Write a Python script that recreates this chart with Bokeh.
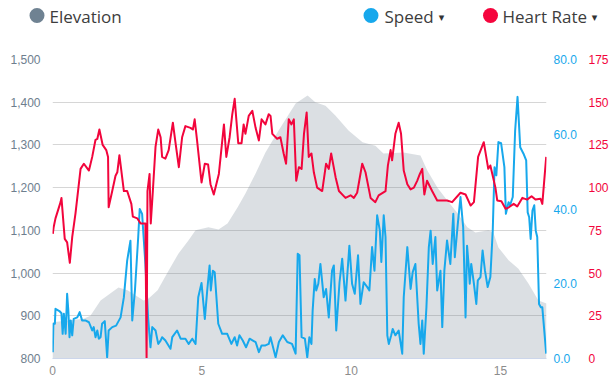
from bokeh.plotting import figure
from bokeh.layouts import column
from bokeh.models import (Range1d, LinearAxis, FixedTicker, NumeralTickFormatter)
from bokeh.core.properties import value
from bokeh.embed import file_html
from bokeh.resources import INLINE

# ---- data (distance in km) ----
dist_elev = [0.00, 1.04, 1.27, 1.61, 2.21, 2.51, 3.05, 3.21, 3.52, 3.88, 4.22, 4.55, 4.79,
             5.22, 5.56, 5.86, 6.19, 6.46, 6.80, 7.13, 7.57, 8.14, 8.54, 8.80, 9.14, 9.47,
             9.91, 10.38, 10.81, 11.08, 11.75, 12.32, 12.55, 12.89, 13.22, 13.56, 13.89,
             14.16, 14.60, 14.76, 14.93, 15.27, 15.60, 15.94, 16.27, 16.54]
elevation = [885, 893, 900, 936, 966, 960, 936, 940, 960, 1005, 1046, 1076, 1100,
             1107, 1102, 1116, 1153, 1186, 1233, 1282, 1334, 1397, 1416, 1400, 1392, 1369,
             1334, 1306, 1298, 1280, 1282, 1275, 1240, 1200, 1170, 1140, 1107,
             1095, 1100, 1095, 1060, 1030, 1010, 975, 936, 929]

dist_speed = [0.01, 0.03, 0.08, 0.10, 0.23, 0.30, 0.34, 0.38, 0.44, 0.49, 0.53, 0.57, 0.61,
              0.66, 0.71, 0.83, 0.91, 0.99, 1.10, 1.22, 1.33, 1.38, 1.44, 1.50, 1.55, 1.61,
              1.66, 1.75, 1.83, 1.88, 2.00, 2.13, 2.28, 2.39, 2.50, 2.61, 2.67, 2.76, 2.87,
              2.92, 3.00, 3.11, 3.20, 3.28, 3.34, 3.45, 3.54, 3.62, 3.67, 3.78, 3.95, 4.01,
              4.17, 4.29, 4.45, 4.56, 4.68, 4.79, 4.88, 4.99, 5.10, 5.18, 5.26, 5.30, 5.37,
              5.43, 5.55, 5.68, 5.85, 5.99, 6.10, 6.18, 6.26, 6.37, 6.48, 6.60, 6.71, 6.80,
              6.91, 7.00, 7.13, 7.24, 7.30, 7.47, 7.58, 7.71, 7.86, 8.02, 8.14, 8.21, 8.27,
              8.34, 8.45, 8.53, 8.60, 8.67, 8.71, 8.78, 8.83, 8.90, 8.97, 9.08, 9.16, 9.25,
              9.36, 9.42, 9.50, 9.61, 9.70, 9.81, 9.94, 10.03, 10.12, 10.23, 10.31, 10.42,
              10.54, 10.61, 10.70, 10.78, 10.87, 10.96, 11.01, 11.09, 11.15, 11.21, 11.26,
              11.34, 11.39, 11.48, 11.59, 11.71, 11.76, 11.88, 11.99, 12.06, 12.15, 12.26,
              12.32, 12.38, 12.43, 12.52, 12.60, 12.66, 12.73, 12.82, 12.88, 12.99, 13.05,
              13.12, 13.21, 13.32, 13.42, 13.47, 13.57, 13.66, 13.75, 13.83, 13.88, 13.93,
              13.97, 14.02, 14.11, 14.19, 14.24, 14.33, 14.40, 14.48, 14.57, 14.66, 14.74,
              14.80, 14.86, 14.93, 15.02, 15.13, 15.18, 15.27, 15.32, 15.41, 15.49, 15.57,
              15.66, 15.77, 15.86, 15.91, 15.96, 16.01, 16.07, 16.13, 16.18, 16.23, 16.29,
              16.35, 16.40, 16.53]
speed = [1.7, 9.3, 9.3, 13.3, 12.7, 12.1, 6.6, 12.0, 6.6, 17.3, 12.8, 5.7, 10.2,
         6.2, 10.6, 11.0, 12.4, 10.2, 10.2, 9.7, 7.5, 8.4, 5.7, 7.5, 5.3, 5.7,
         9.3, 10.0, 0.3, 7.5, 8.4, 8.8, 11.0, 16.4, 26.2, 31.5, 10.2, 18.2, 32.5,
         40.0, 38.7, 25.3, 11.0, 3.0, 8.4, 7.5, 3.9, 4.8, 5.7, 4.8, 2.6, 5.7,
         7.5, 5.3, 5.3, 3.9, 5.3, 3.9, 16.4, 20.2, 10.6, 18.2, 24.9, 18.2, 23.5,
         23.1, 9.3, 6.6, 6.6, 3.9, 5.7, 3.5, 6.2, 4.8, 3.0, 5.3, 4.8, 4.4,
         1.7, 3.5, 3.5, 3.9, 5.7, 0.3, 4.4, 6.2, 4.4, 3.9, 1.3, 28.0, 27.6,
         5.7, 5.3, 0.3, 5.7, 3.9, 12.8, 21.3, 18.2, 20.0, 25.3, 16.4, 18.6, 11.0,
         23.5, 24.9, 7.5, 20.4, 26.7, 15.5, 30.2, 20.0, 17.3, 27.6, 14.6, 20.4,
         19.1, 18.2, 29.8, 23.5, 38.3, 34.2, 25.8, 38.3, 32.5, 6.2, 3.9,
         6.2, 7.9, 6.2, 7.5, 1.3, 16.4, 29.8, 18.6, 23.1, 25.3, 9.3,
         3.9, 10.2, 1.3, 13.7, 29.8, 34.2, 25.3, 32.5, 18.2, 23.5, 8.4,
         23.5, 31.6, 25.3, 38.7, 27.1, 36.0, 43.2, 35.1, 11.0, 30.2, 25.3,
         20.0, 25.3, 20.0, 14.6, 20.9, 21.8, 28.9, 23.5, 19.1, 21.8, 34.2,
         51.2, 49.0, 57.9, 57.6, 51.2, 38.7, 41.8, 41.0, 43.2, 61.0, 70.0,
         56.5, 54.8, 53.0, 39.1, 37.8, 32.0, 39.6, 41.0, 34.2, 32.5, 14.6,
         13.7, 13.7, 1.3]

dist_hr = [0.01, 0.04, 0.10, 0.27, 0.30, 0.41, 0.49, 0.58, 0.66, 0.77, 0.94, 1.05, 1.22,
           1.33, 1.44, 1.50, 1.57, 1.68, 1.80, 1.86, 1.88, 2.00, 2.11, 2.17, 2.24, 2.39,
           2.50, 2.64, 2.69, 2.84, 2.95, 3.11, 3.15, 3.18, 3.25, 3.29, 3.36, 3.45, 3.54,
           3.62, 3.67, 3.78, 3.89, 4.03, 4.12, 4.23, 4.34, 4.45, 4.62, 4.70, 4.76, 4.84,
           4.99, 5.10, 5.21, 5.29, 5.40, 5.57, 5.74, 5.82, 5.93, 6.02, 6.10, 6.15, 6.22,
           6.33, 6.40, 6.46, 6.57, 6.69, 6.80, 6.91, 7.00, 7.13, 7.24, 7.30, 7.36, 7.52,
           7.63, 7.74, 7.82, 7.91, 8.00, 8.08, 8.16, 8.25, 8.34, 8.42, 8.51, 8.58, 8.67,
           8.75, 8.86, 9.03, 9.16, 9.25, 9.33, 9.48, 9.59, 9.81, 9.98, 10.09, 10.20,
           10.37, 10.48, 10.65, 10.81, 10.92, 11.15, 11.23, 11.32, 11.37, 11.48, 11.59,
           11.67, 11.76, 11.88, 11.99, 12.10, 12.21, 12.30, 12.38, 12.45, 12.54, 12.71,
           12.88, 13.21, 13.38, 13.66, 13.83, 14.00, 14.11, 14.25, 14.44, 14.59, 14.66,
           14.83, 14.89, 15.03, 15.17, 15.28, 15.44, 15.56, 15.73, 15.89, 16.04, 16.17,
           16.34, 16.40, 16.53]
heart_rate = [73, 77, 82, 91.5, 94, 70, 68, 56, 71, 85, 111, 114, 110,
              118, 128, 128.5, 134, 125, 122, 118, 88.5, 98, 107, 109, 119, 98,
              98, 90.5, 83, 82, 79, 79, 0, 98, 108, 79, 98, 124, 134,
              129.5, 118, 117, 122, 138, 126, 112, 129.5, 136, 135, 134, 140, 127.6,
              103, 114, 113.5, 102, 96, 108, 137, 118, 129.5, 143, 152, 141, 126,
              126, 137, 131.5, 142, 145, 135, 127.6, 140, 137, 143, 142, 131.5, 128.6,
              129.5, 120, 114, 140, 137, 140, 104, 112, 111, 131.5, 144, 118, 120,
              109, 100, 98, 114, 111, 120, 106, 98, 94, 95.5, 94, 97,
              114, 109, 94, 91.5, 95.5, 98, 113, 122, 116, 131.5, 138,
              131.5, 110, 102, 99, 100, 104, 108, 111, 96, 104, 98,
              92.5, 92.5, 91.5, 97, 96, 89.5, 91.5, 118, 126.6, 111, 113,
              100, 92.5, 92, 87.6, 88.5, 90.5, 89, 94, 93, 95, 93,
              93.5, 90.5, 118]

elev_ticks = [800, 900, 1000, 1100, 1200, 1300, 1400, 1500]
speed_ticks = [0, 20, 40, 60, 80]
hr_ticks = [0, 25, 50, 75, 100, 125, 150, 175]
dist_ticks = [0, 5, 10, 15]
series_names = ["Elevation", "Speed", "Heart Rate"]

ELEV_C = "#708090"
SPEED_C = "#17a8ec"
HR_C = "#f2053c"
TICK_FONT = "Liberation Sans"

# ---------------- header (legend strip, pixel-space layout) ----------------
HEAD_H = 35
head = figure(width=612, height=HEAD_H, output_backend="svg", toolbar_location=None,
              x_axis_type=None, y_axis_type=None, min_border=0,
              x_range=Range1d(0, 612), y_range=Range1d(HEAD_H, 0))
head.frame_align = False
head.outline_line_color = None
head.grid.visible = False

swatch_x = [36.5, 370.5, 490]
label_x = [49, 384, 502]
caret_x = [441, 594]
row_y = 15
head.scatter(x=swatch_x, y=[row_y] * 3, marker="circle", size=15, line_color=None,
             fill_color=["#6f8292", "#17a8ec", "#f5053d"])
head.text(x=label_x, y=[row_y + 1] * 3, text=series_names, text_font=value("Open Sans"),
          text_font_size="17px", text_baseline="middle", text_align="left",
          text_color="#3d3d3d")
head.text(x=caret_x, y=[row_y + 2] * 2, text=["▾", "▾"], text_font=value("DejaVu Sans"),
          text_font_size="11px", text_baseline="middle", text_align="center",
          text_color="#333333")

# ---------------- main chart ----------------
p = figure(width=612, height=390 - HEAD_H, output_backend="svg", toolbar_location=None,
           x_range=Range1d(0, 16.54), y_range=Range1d(800, 1500),
           min_border_left=52, min_border_right=66, min_border_top=59 - HEAD_H,
           min_border_bottom=32)
p.frame_align = False
p.outline_line_color = None
p.extra_y_ranges = {"speed": Range1d(0, 80), "hr": Range1d(0, 175)}

p.xgrid.visible = False
p.ygrid.ticker = FixedTicker(ticks=elev_ticks)
p.ygrid.grid_line_color = "#d6d6d6"
p.ygrid.grid_line_width = 1

la = p.yaxis[0]
la.ticker = FixedTicker(ticks=elev_ticks)
la.formatter = NumeralTickFormatter(format="0,0")
la.axis_line_color = None
la.major_tick_line_color = None
la.minor_tick_line_color = None
la.major_tick_out = 0
la.major_label_standoff = 12
la.major_label_text_color = "#6e7e8e"
la.major_label_text_font = TICK_FONT
la.major_label_text_font_size = "12px"

ba = p.xaxis[0]
ba.ticker = FixedTicker(ticks=dist_ticks)
ba.axis_line_color = "#ccd6eb"
ba.major_tick_line_color = None
ba.minor_tick_line_color = None
ba.major_tick_out = 0
ba.major_label_standoff = 7
ba.major_label_text_color = "#8c8c8c"
ba.major_label_text_font = TICK_FONT
ba.major_label_text_font_size = "12px"

sa = LinearAxis(y_range_name="speed", ticker=FixedTicker(ticks=speed_ticks),
                formatter=NumeralTickFormatter(format="0.0"))
ha = LinearAxis(y_range_name="hr", ticker=FixedTicker(ticks=hr_ticks))
for ax, col, so in ((sa, SPEED_C, 7), (ha, HR_C, 9)):
    ax.axis_line_color = None
    ax.major_tick_line_color = None
    ax.minor_tick_line_color = None
    ax.major_tick_out = 0
    ax.major_label_standoff = so
    ax.major_label_text_color = col
    ax.major_label_text_font = TICK_FONT
    ax.major_label_text_font_size = "12px"
p.add_layout(sa, "right")
p.add_layout(ha, "right")

p.varea(x=dist_elev, y1=800, y2=elevation, fill_color=ELEV_C, fill_alpha=0.25)
p.line(dist_speed, speed, y_range_name="speed", line_color=SPEED_C, line_width=2,
       line_join="round")
p.line(dist_hr, heart_rate, y_range_name="hr", line_color=HR_C, line_width=2,
       line_join="round")

layout = column(head, p, spacing=0)
open("out.html", "w").write(file_html(layout, INLINE))
